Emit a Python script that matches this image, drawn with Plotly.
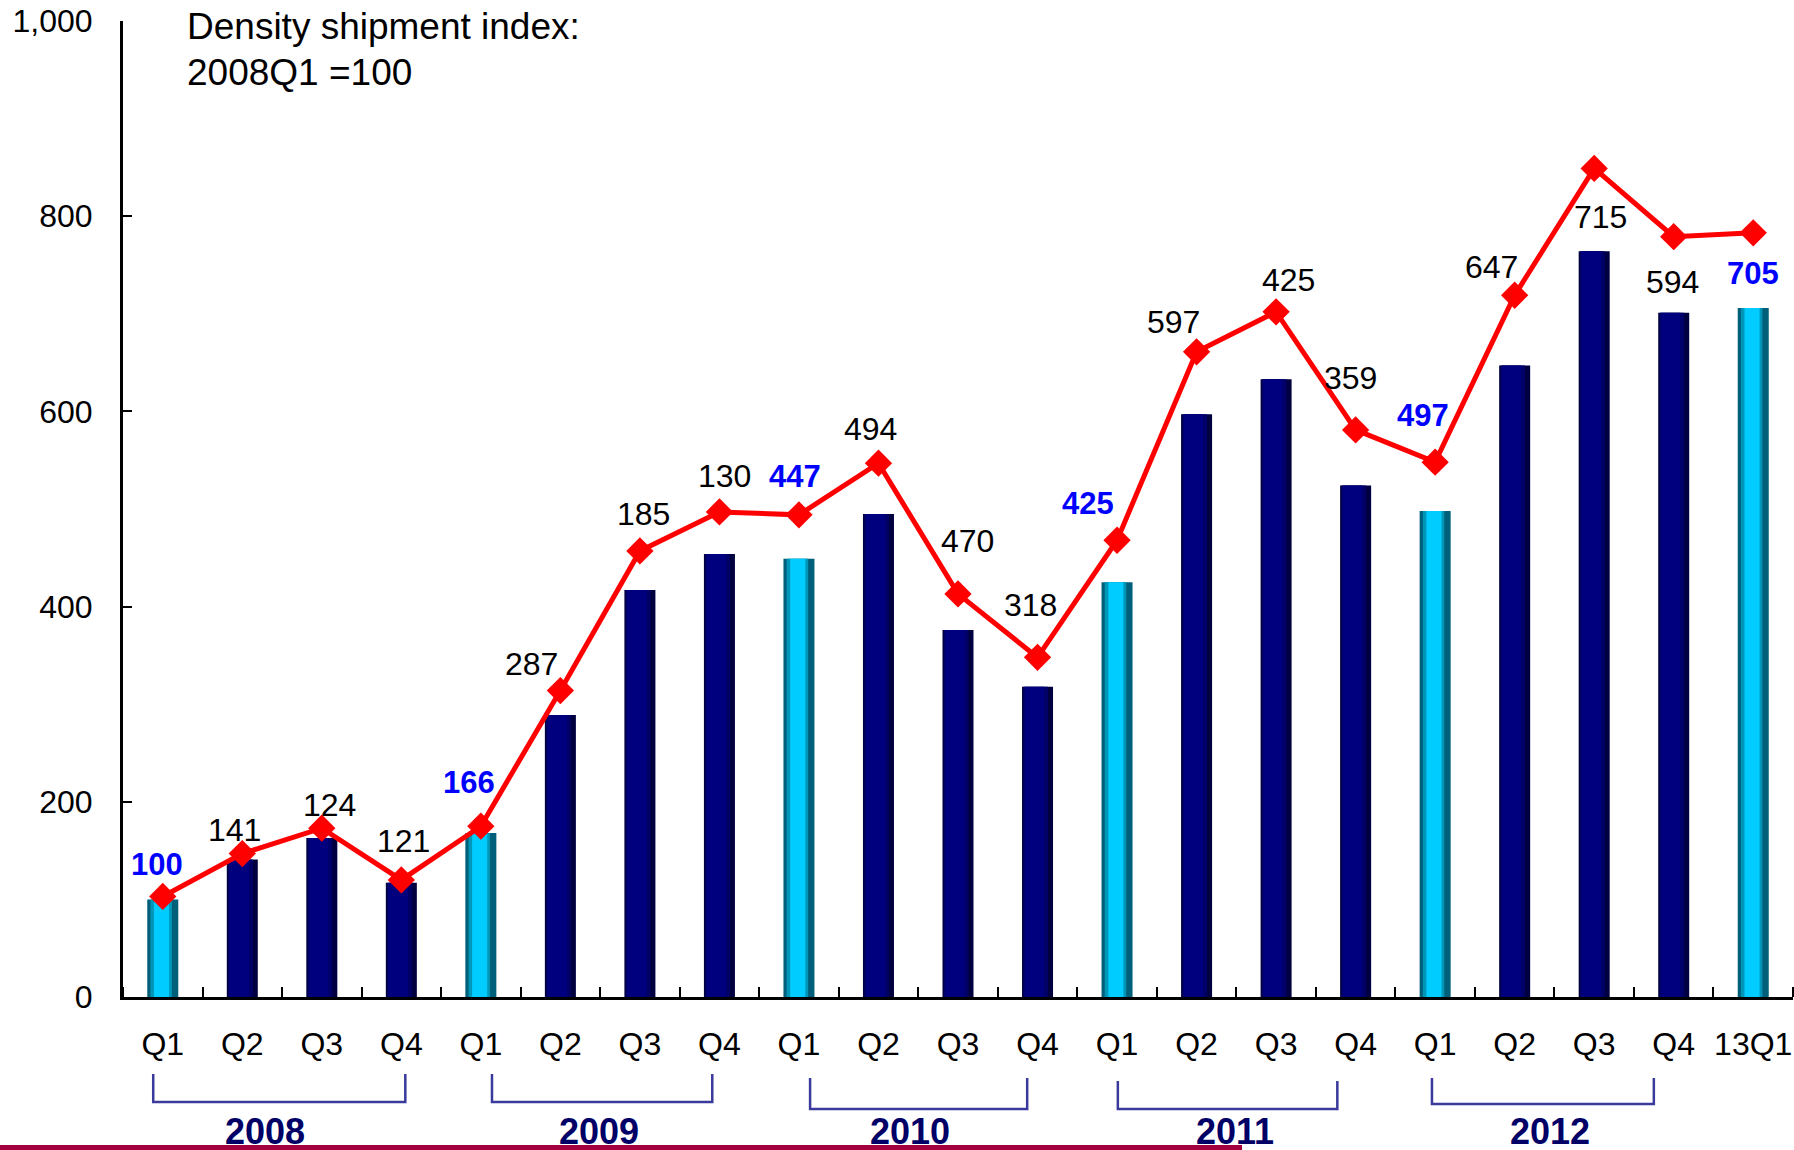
import plotly.graph_objects as go

# ---------------- data ----------------
quarter_labels = ["Q1", "Q2", "Q3", "Q4",
                  "Q1", "Q2", "Q3", "Q4",
                  "Q1", "Q2", "Q3", "Q4",
                  "Q1", "Q2", "Q3", "Q4",
                  "Q1", "Q2", "Q3", "Q4",
                  "13Q1"]
bar_values = [100, 141, 163, 117, 168, 289, 417, 454, 449, 495, 376,
              318, 425, 597, 633, 524, 498, 647, 764, 701, 706]
line_values = [103, 147, 173, 120, 175, 314, 457, 497, 494, 547, 413,
               348, 468, 661, 702, 581, 548, 719, 849, 779, 783]
label_texts = ["100", "141", "124", "121", "166", "287", "185", "130", "447",
               "494", "470", "318", "425", "597", "425", "359", "497", "647",
               "715", "594", "705"]
years = ["2008", "2009", "2010", "2011", "2012"]
y_ticks = [0, 200, 400, 600, 800, 1000]

# ---------------- layout / style helpers ----------------
# label offsets from each line marker, in pixels (dx right, dy down)
label_offsets = [(-6, -32), (-8, -24), (8, -23), (2, -39), (-12, -44),
                 (-29, -27), (4, -37), (5, -36), (-4, -38), (-8, -34),
                 (9, -53), (-7, -52), (-29, -37), (-23, -30), (12, -32),
                 (-5, -52), (-12, -47), (-23, -28), (6, 49), (-1, 45), (0, 41)]
# year bracket spans in category-index units, and vertical pixel extents
bracket_spans = [(-0.12, 3.05), (4.14, 6.91), (8.14, 10.87), (12.01, 14.77), (15.96, 18.75)]
bracket_y_px = [(1074, 1102), (1074, 1102), (1078, 1109), (1081, 1109), (1078, 1104)]
year_label_pos = [1.29, 5.49, 9.40, 13.48, 17.45]

W, H = 1794, 1150
ML, MR, MT, MB = 123, 1, 21, 153
PW, PH = W - ML - MR, H - MT - MB
N = len(quarter_labels)
x_idx = list(range(N))


def px_to_paper_y(ypx):
    return (H - MB - ypx) / PH


def px_to_paper_x(xpx):
    return (xpx - ML) / PW


def idx_to_paper_x(i):
    return (i + 0.5) / N


FONT = "Liberation Sans, Arial, Helvetica, sans-serif"
is_first = [lbl in ("Q1", "13Q1") for lbl in quarter_labels]

fig = go.Figure()

hi_x = [i for i in x_idx if is_first[i]]
hi_y = [bar_values[i] for i in x_idx if is_first[i]]
lo_x = [i for i in x_idx if not is_first[i]]
lo_y = [bar_values[i] for i in x_idx if not is_first[i]]

BW = 0.39
# navy bars with simple shading layers
for col, off, wd in [("#000040", -BW / 2, BW),
                     ("#000066", -0.178, 0.31),
                     ("#00007E", -0.16, 0.245)]:
    fig.add_trace(go.Bar(x=lo_x, y=lo_y, width=wd, offset=off,
                         marker=dict(color=col, line=dict(width=0)),
                         showlegend=False, hoverinfo="skip"))
# cyan bars with cylinder-like shading
for col, off, wd in [("#00607A", -BW / 2, BW),
                     ("#0096B8", -0.155, 0.27),
                     ("#00CCFF", -0.11, 0.19)]:
    fig.add_trace(go.Bar(x=hi_x, y=hi_y, width=wd, offset=off,
                         marker=dict(color=col, line=dict(width=0)),
                         showlegend=False, hoverinfo="skip"))

fig.add_trace(go.Scatter(x=x_idx, y=line_values, mode="lines+markers",
                         line=dict(color="#FF0000", width=5),
                         marker=dict(symbol="diamond", size=21, color="#FF0000"),
                         showlegend=False, hoverinfo="skip"))

annotations = []
for i in x_idx:
    dx, dy = label_offsets[i]
    if is_first[i]:
        font = dict(family=FONT, size=31, color="#0000FF", weight="bold")
    else:
        font = dict(family=FONT, size=32, color="#000000")
    annotations.append(dict(x=i, y=line_values[i], xref="x", yref="y",
                            text=label_texts[i], showarrow=False,
                            xanchor="center", yanchor="middle",
                            xshift=dx, yshift=-dy, font=font))

annotations.append(dict(x=px_to_paper_x(185), y=px_to_paper_y(26), xref="paper", yref="paper",
                        text="Density shipment index:", showarrow=False,
                        xanchor="left", yanchor="middle",
                        font=dict(family=FONT, size=37, color="#000000")))
annotations.append(dict(x=px_to_paper_x(185), y=px_to_paper_y(72), xref="paper", yref="paper",
                        text="2008Q1 =100", showarrow=False,
                        xanchor="left", yanchor="middle",
                        font=dict(family=FONT, size=37, color="#000000")))

for yr, xc in zip(years, year_label_pos):
    annotations.append(dict(x=idx_to_paper_x(xc), y=px_to_paper_y(1131), xref="paper", yref="paper",
                            text=yr, showarrow=False, xanchor="center", yanchor="middle",
                            font=dict(family=FONT, size=36, color="#000066", weight="bold")))

shapes = []
for (a, b), (yt, yb) in zip(bracket_spans, bracket_y_px):
    xa, xb = idx_to_paper_x(a), idx_to_paper_x(b)
    ya, yb2 = px_to_paper_y(yt), px_to_paper_y(yb)
    shapes.append(dict(type="path", xref="paper", yref="paper",
                       path=f"M {xa},{ya} L {xa},{yb2} L {xb},{yb2} L {xb},{ya}",
                       line=dict(color="#3A3A9C", width=2.5)))
# maroon rule at the bottom
shapes.append(dict(type="line", xref="paper", yref="paper",
                   x0=px_to_paper_x(0), x1=px_to_paper_x(1242),
                   y0=px_to_paper_y(1147.5), y1=px_to_paper_y(1147.5),
                   line=dict(color="#A3003F", width=5)))

fig.update_layout(
    width=W, height=H,
    margin=dict(l=ML, r=MR, t=MT, b=MB, pad=0),
    paper_bgcolor="white", plot_bgcolor="white",
    barmode="overlay",
    font=dict(family=FONT, size=32, color="#000000"),
    annotations=annotations,
    shapes=shapes,
    showlegend=False,
)
fig.update_xaxes(
    range=[-0.5, N - 0.5], tickmode="array", tickvals=x_idx, ticktext=quarter_labels,
    ticks="", showgrid=False, zeroline=False,
    showline=True, linecolor="#000000", linewidth=3,
    tickfont=dict(family=FONT, size=32, color="#000000"),
    ticklabelstandoff=17,
    minor=dict(tickmode="array", tickvals=[i + 0.5 for i in range(-1, N)],
               ticks="inside", ticklen=10, tickwidth=2, tickcolor="#000000", showgrid=False),
)
fig.update_yaxes(
    range=[0, 1000], tickmode="array", tickvals=y_ticks, tickformat=",",
    ticks="inside", ticklen=9, tickwidth=2, tickcolor="#000000",
    showgrid=False, zeroline=False,
    showline=True, linecolor="#000000", linewidth=3,
    tickfont=dict(family=FONT, size=32, color="#000000"),
    ticklabelstandoff=21,
)

fig.write_html(
    "out.html",
    config={"displayModeBar": False},
    post_script="document.body.style.margin='0px';document.body.style.overflow='hidden';",
)
